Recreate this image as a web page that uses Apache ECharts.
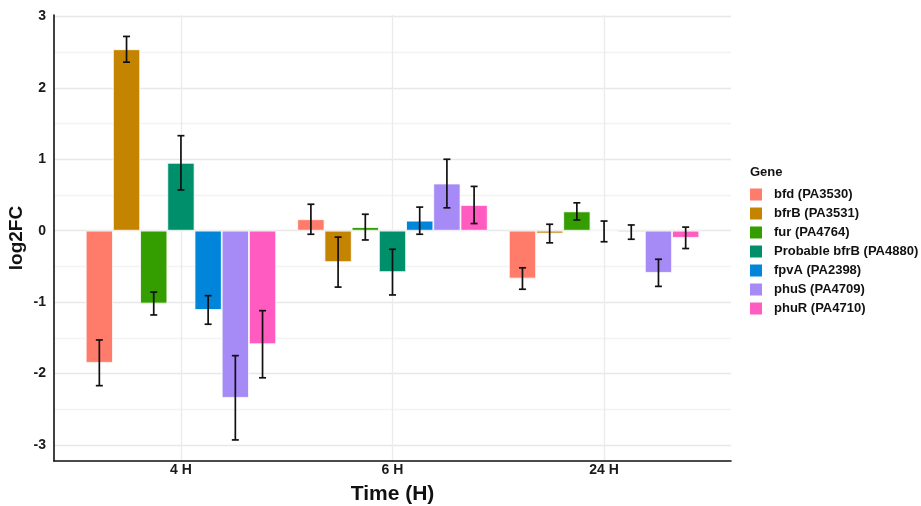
<!DOCTYPE html>
<html>
<head>
<meta charset="utf-8">
<style>
  html, body { margin: 0; padding: 0; background: #ffffff; }
  #chart { width: 921px; height: 506px; }
</style>
<script src="https://cdn.jsdelivr.net/npm/echarts@6/dist/echarts.min.js"></script>
</head>
<body>
<div id="chart"></div>
<script>
// Time points (category positions 1, 2, 3 on the x axis)
const timeLabels = ['4 H', '6 H', '24 H'];

// Genes and their fill colours
const genes = [
  'bfd (PA3530)',
  'bfrB (PA3531)',
  'fur (PA4764)',
  'Probable bfrB (PA4880)',
  'fpvA (PA2398)',
  'phuS (PA4709)',
  'phuR (PA4710)'
];
const geneColors = ['#FF7B6A', '#C48400', '#349E00', '#008F6B', '#0085DA', '#A68AF6', '#FF5BC0'];

// Mean log2 fold change per gene, at 4 H, 6 H and 24 H
const bfdFC       = [-1.85,  0.16, -0.67];
const bfrBFC      = [ 2.54, -0.44, -0.04];
const furFC       = [-1.02,  0.05,  0.27];
const probBfrBFC  = [ 0.95, -0.58, -0.01];
const fpvAFC      = [-1.11,  0.14, -0.02];
const phuSFC      = [-2.34,  0.66, -0.59];
const phuRFC      = [-1.59,  0.36, -0.10];

// Error (± half-width of the error bar) per gene
const bfdErr      = [0.32, 0.21, 0.15];
const bfrBErr     = [0.18, 0.35, 0.13];
const furErr      = [0.16, 0.18, 0.12];
const probBfrBErr = [0.38, 0.32, 0.145];
const fpvAErr     = [0.20, 0.19, 0.10];
const phuSErr     = [0.59, 0.34, 0.19];
const phuRErr     = [0.47, 0.26, 0.15];

// y-axis tick labels
const yTicks = [-3, -2, -1, 0, 1, 2, 3];

const fcValues  = [bfdFC, bfrBFC, furFC, probBfrBFC, fpvAFC, phuSFC, phuRFC];
const errValues = [bfdErr, bfrBErr, furErr, probBfrBErr, fpvAErr, phuSErr, phuRErr];

const nGenes = genes.length;
const dodgeWidth = 0.9;               // share of a time slot taken by a bar group
const barUnit = dodgeWidth / nGenes;  // width of a single bar in axis units
const timePos = timeLabels.map((_, i) => i + 1);

// Grid lines every half unit: integers darker, halves lighter
const yGrid = [];
for (let v = -3; v <= 3.0001; v += 0.5) yGrid.push(Math.round(v * 10) / 10);

const FONT = 'Liberation Sans, Arial, sans-serif';

const series = [];
genes.forEach((g, gi) => {
  series.push({
    name: g,
    type: 'bar',
    xAxisIndex: 0,
    yAxisIndex: 0,
    barGap: '0%',
    barCategoryGap: '10%',
    itemStyle: { color: geneColors[gi], borderColor: '#ffffff', borderWidth: 0.8 },
    data: timePos.map((x, ti) => [x, fcValues[gi][ti]]),
    z: 2
  });
});

// Error bars drawn through the axis scales, dodged like the bars
genes.forEach((g, gi) => {
  series.push({
    name: g,
    type: 'custom',
    xAxisIndex: 0,
    yAxisIndex: 0,
    z: 5,
    silent: true,
    data: timePos.map((x, ti) => [x, fcValues[gi][ti] - errValues[gi][ti], fcValues[gi][ti] + errValues[gi][ti]]),
    renderItem: function (params, api) {
      const xc = api.value(0) + (gi - (nGenes - 1) / 2) * barUnit;
      const lo = api.coord([xc, api.value(1)]);
      const hi = api.coord([xc, api.value(2)]);
      const cap = 3.5;
      const style = { stroke: '#111111', lineWidth: 1.7 };
      return {
        type: 'group',
        children: [
          { type: 'line', shape: { x1: lo[0], y1: lo[1], x2: hi[0], y2: hi[1] }, style: style },
          { type: 'line', shape: { x1: hi[0] - cap, y1: hi[1], x2: hi[0] + cap, y2: hi[1] }, style: style },
          { type: 'line', shape: { x1: lo[0] - cap, y1: lo[1], x2: lo[0] + cap, y2: lo[1] }, style: style }
        ]
      };
    }
  });
});

const chart = echarts.init(document.getElementById('chart'), null, { renderer: 'canvas' });
chart.setOption({
  animation: false,
  backgroundColor: '#ffffff',
  textStyle: { fontFamily: FONT },
  title: {
    text: 'Gene',
    left: 750,
    top: 166,
    padding: 0,
    textStyle: { fontSize: 13, fontWeight: 'bold', color: '#111111', fontFamily: FONT }
  },
  legend: {
    orient: 'vertical',
    left: 745,
    top: 183,
    itemWidth: 12,
    itemHeight: 12,
    itemGap: 6,
    icon: 'rect',
    data: genes.map((g, gi) => ({ name: g, itemStyle: { color: geneColors[gi], borderWidth: 0 } })),
    textStyle: { fontSize: 13, fontWeight: 'bold', color: '#111111', padding: [0, 0, 0, 7] }
  },
  grid: { left: 54, right: 190, top: 15, bottom: 45, containLabel: false, outerBoundsMode: 'none' },
  xAxis: {
    type: 'value',
    min: 0.4,
    max: 3.6,
    name: 'Time (H)',
    nameLocation: 'middle',
    nameGap: 23,
    nameMoveOverlap: false,
    nameTextStyle: { fontSize: 21, fontWeight: 'bold', color: '#111111' },
    axisLine: { show: true, onZero: false, lineStyle: { color: '#111111', width: 1.6 } },
    axisTick: { show: false, customValues: timePos },
    axisLabel: {
      customValues: timePos,
      formatter: v => timeLabels[Math.round(v) - 1],
      fontSize: 14,
      fontWeight: 'bold',
      color: '#1a1a1a',
      margin: 2
    },
    splitLine: { show: true, lineStyle: { color: '#ebebeb', width: 1.3 } }
  },
  yAxis: {
    type: 'value',
    min: -3.225,
    max: 3.02,
    name: 'log2FC',
    nameLocation: 'middle',
    nameGap: 28,
    nameMoveOverlap: false,
    nameTextStyle: { fontSize: 19, fontWeight: 'bold', color: '#111111' },
    axisLine: { show: true, onZero: false, lineStyle: { color: '#111111', width: 1.6 } },
    axisTick: { show: false, customValues: yGrid },
    axisLabel: {
      customValues: yTicks,
      fontSize: 14,
      fontWeight: 'bold',
      color: '#1a1a1a',
      margin: 8
    },
    splitLine: { show: true, lineStyle: { color: ['#e8e8e8', '#f3f3f3'], width: 1.3 } }
  },
  series: series
});
</script>
</body>
</html>
